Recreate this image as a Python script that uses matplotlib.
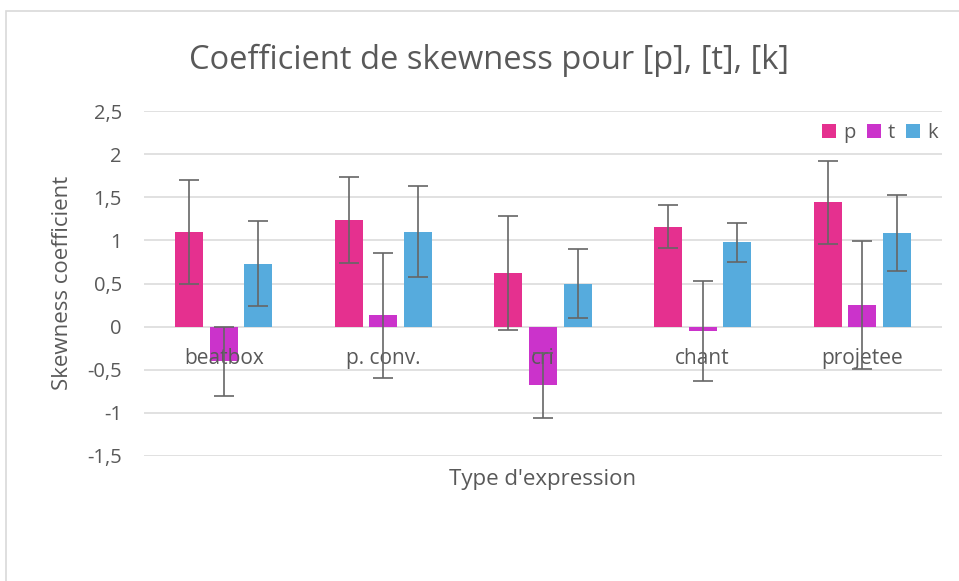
import matplotlib
matplotlib.use("Agg")
import matplotlib.pyplot as plt
import matplotlib.transforms as mtransforms
from matplotlib.patches import Rectangle, Patch
import numpy as np

categories = ["beatbox", "p. conv.", "cri", "chant", "projetee"]
p_vals = [1.10, 1.24, 0.62, 1.16, 1.44]
p_err = [0.60, 0.50, 0.66, 0.245, 0.485]
t_vals = [-0.40, 0.13, -0.68, -0.05, 0.25]
t_err = [0.40, 0.72, 0.38, 0.58, 0.745]
k_vals = [0.73, 1.10, 0.50, 0.98, 1.09]
k_err = [0.49, 0.53, 0.40, 0.225, 0.44]
series_names = ["p", "t", "k"]
yticks = [-1.5, -1.0, -0.5, 0.0, 0.5, 1.0, 1.5, 2.0, 2.5]
ytick_labels = ["-1,5", "-1", "-0,5", "0", "0,5", "1", "1,5", "2", "2,5"]

colors = ["#E5308F", "#CB33CB", "#56ABDD"]
txt = "#595959"
grid_c = "#D9D9D9"

plt.rcParams['font.family'] = ['Open Sans', 'DejaVu Sans']

fig = plt.figure(figsize=(9.59, 5.81), dpi=100)
# outer chart frame
fig.patches.append(Rectangle((6/959, -0.1), 2.0, 1 - 11/581 + 0.1,
                             transform=fig.transFigure, fill=False,
                             edgecolor=grid_c, linewidth=1.2))

ax = fig.add_axes([144/959, 1 - 456/581, (942-144)/959, (456-111)/581])
ax.set_facecolor("none")
x = np.arange(len(categories))
bw = 0.175
step = 0.217
data = [(p_vals, p_err), (t_vals, t_err), (k_vals, k_err)]
for i, (vals, errs) in enumerate(data):
    pos = x + (i - 1) * step
    ax.bar(pos, vals, width=bw, color=colors[i], zorder=3, label=series_names[i])
    ax.errorbar(pos, vals, yerr=errs, fmt="none", ecolor="#666666",
                elinewidth=1.2, capsize=7, capthick=1.2, zorder=5)

ax.set_xlim(-0.5, len(categories) - 0.5)
ax.set_ylim(-1.5, 2.5)
ax.set_yticks(yticks)
ax.set_yticklabels(ytick_labels)
ax.set_xticks([])
ax.tick_params(axis='y', length=0, pad=16, labelsize=14.5, labelcolor=txt)
ax.yaxis.grid(True, color=grid_c, linewidth=1.1)
ax.set_axisbelow(True)
for s in ax.spines.values():
    s.set_visible(False)

off = mtransforms.offset_copy(ax.transData, fig=fig, x=0, y=-32, units='dots')
for xi, lab in zip(x, categories):
    ax.text(xi, 0, lab, transform=off, ha='center', va='center',
            fontsize=15, color=txt, zorder=4)

fig.text(489/959, 1 - 60/581, "Coefficient de skewness pour [p], [t], [k]",
         ha='center', va='center', fontsize=23.5, color=txt)
fig.text(62/959, 1 - 283/581, "Skewness coefficient", rotation=90,
         ha='center', va='center', fontsize=16, color=txt)
fig.text(543/959, 1 - 479/581, "Type d'expression",
         ha='center', va='center', fontsize=16, color=txt)

handles = [Patch(facecolor=c, edgecolor='none') for c in colors]
fig.legend(handles, series_names, loc='center right',
           bbox_to_anchor=(938/959, 1 - 133/581), ncol=3, frameon=False,
           handlelength=0.7, handleheight=0.7, handletextpad=0.35,
           columnspacing=0.55, fontsize=14.5, labelcolor=txt,
           borderaxespad=0, borderpad=0)

fig.savefig("out.png", dpi=100)
